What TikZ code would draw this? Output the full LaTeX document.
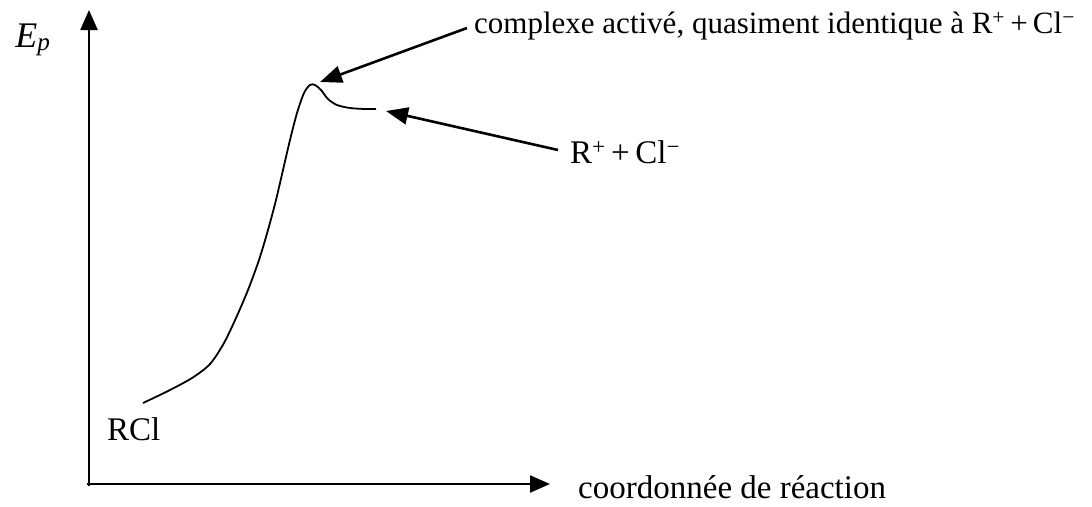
\documentclass[tikz,border=0pt]{standalone}
\usepackage{fontspec}
\setmainfont{Liberation Serif}
\usetikzlibrary{arrows.meta}
\begin{document}
\begin{tikzpicture}[x=1pt,y=-1pt,
  axis/.style={line width=2.4pt,-{Triangle[length=20pt,width=17pt]}},
  pointer/.style={line width=2.6pt,-{Triangle[length=22pt,width=17pt]}},
  curve/.style={line width=1.8pt},
  lbl/.style={inner sep=0pt,font=\fontsize{33}{39}\selectfont}]
\useasboundingbox (0,0) rectangle (1092,506);
\coordinate (ytip) at (89,10);
\coordinate (xtip) at (550,484);
\draw[axis] (89,486) -- (ytip);
\draw[axis] (87,484) -- (xtip);
\node[lbl] (ep) at (33,40) {\fontsize{36}{40}\selectfont\itshape E\textsubscript{p}};
\node[lbl,anchor=west] (xl) at (578,487) {coordonnée de réaction};
\node[lbl,anchor=west] (rcl) at (107,429) {RCl};
\draw[curve] plot[smooth,tension=0.5] coordinates {(143,403) (168,391) (192,378) (210,364) (224,343) (236,318) (248,290) (259,260) (268,230) (276,200) (283,170) (290,140) (297,113) (304,93) (310,85) (315,85) (321,90) (328,99) (337,105) (350,108) (365,109) (376,109)};
\node[lbl,anchor=west,font=\fontsize{31}{37}\selectfont] (ts) at (474,26) {complexe activé, quasiment identique à R\textsuperscript{+}\,+\,Cl\textsuperscript{−}};
\node[lbl,anchor=west] (rp) at (570,152) {R\textsuperscript{+}\,+\,Cl\textsuperscript{−}};
\coordinate (ts0) at (467,28);
\coordinate (peak) at (320,82);
\coordinate (rp0) at (558,150);
\coordinate (prod) at (386,111);
\draw[pointer] (ts0) -- (peak);
\draw[pointer] (rp0) -- (prod);
\end{tikzpicture}
\end{document}
